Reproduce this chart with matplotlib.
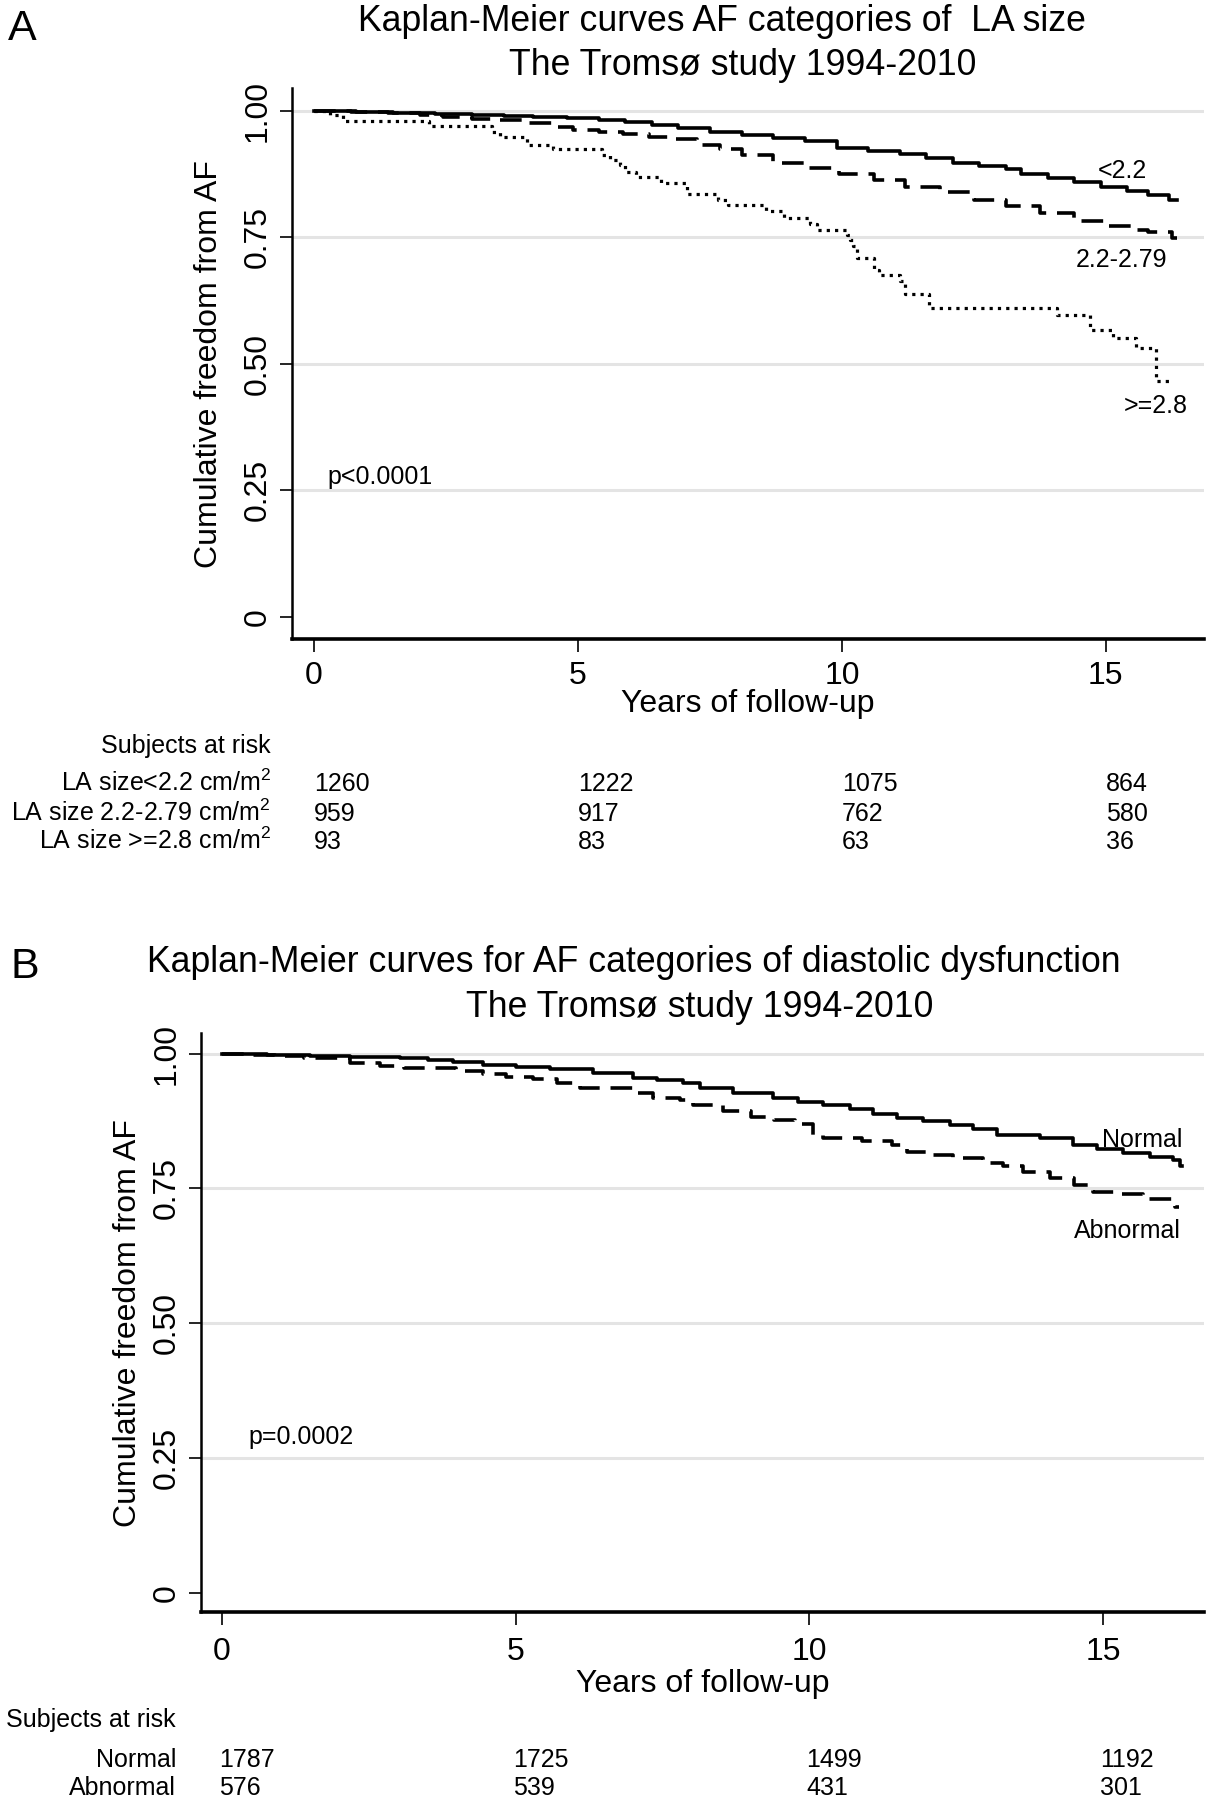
import matplotlib
matplotlib.use('Agg')
import matplotlib.pyplot as plt
import matplotlib.transforms as mtransforms

plt.rcParams['font.family'] = ['Liberation Sans', 'DejaVu Sans']
plt.rcParams['mathtext.fontset'] = 'custom'
plt.rcParams['mathtext.rm'] = 'Liberation Sans'
plt.rcParams['mathtext.it'] = 'Liberation Sans'

# shared axis values
xtickVals = [0, 5, 10, 15]
ytickVals = [0, 0.25, 0.5, 0.75, 1.0]
ytickLabels = ['0', '0.25', '0.50', '0.75', '1.00']

# panel A: LA size groups
aSmallT = [0, 0.8, 1.5, 2.3, 3.0, 3.6, 4.15, 4.8, 5.4, 5.9, 6.4, 6.9, 7.5, 8.1, 8.7, 9.3, 9.9,
           10.5, 11.1, 11.6, 12.1, 12.6, 13.1, 13.4, 13.9, 14.4, 14.9, 15.4, 15.8, 16.2, 16.35]
aSmallS = [1.0, 0.998, 0.996, 0.994, 0.992, 0.990, 0.988, 0.985, 0.982, 0.977, 0.972, 0.966, 0.959,
           0.953, 0.946, 0.940, 0.927, 0.921, 0.915, 0.906, 0.896, 0.890, 0.885, 0.876, 0.867, 0.859,
           0.849, 0.841, 0.834, 0.824, 0.824]
aMidT = [0, 0.7, 1.4, 2.0, 2.45, 3.0, 3.5, 4.0, 4.5, 4.9, 5.4, 5.85, 6.35, 6.8, 7.25, 7.7, 8.1, 8.7,
         9.3, 9.95, 10.6, 11.2, 11.85, 12.5, 13.1, 13.75, 14.4, 15.0, 15.5, 15.8, 16.25, 16.35]
aMidS = [1.0, 0.998, 0.995, 0.991, 0.987, 0.984, 0.981, 0.976, 0.967, 0.962, 0.958, 0.954, 0.948,
         0.944, 0.933, 0.925, 0.913, 0.896, 0.886, 0.875, 0.864, 0.850, 0.839, 0.823, 0.811, 0.798,
         0.783, 0.773, 0.764, 0.760, 0.748, 0.748]
aLargeT = [0, 0.3, 0.55, 2.17, 3.37, 3.52, 4.03, 4.53, 5.45, 5.6, 5.8, 5.9, 6.1, 6.58, 7.06, 7.66,
           7.85, 8.57, 8.9, 9.4, 9.52, 10.09, 10.15, 10.22, 10.28, 10.6, 10.7, 11.1, 11.2, 11.65,
           14.07, 14.7, 15.14, 15.58, 15.96, 16.2]
aLargeS = [1.0, 0.991, 0.979, 0.969, 0.958, 0.948, 0.933, 0.925, 0.913, 0.903, 0.892, 0.880, 0.870,
           0.857, 0.835, 0.824, 0.813, 0.802, 0.789, 0.777, 0.765, 0.755, 0.745, 0.733, 0.709, 0.686,
           0.676, 0.663, 0.639, 0.611, 0.597, 0.567, 0.551, 0.531, 0.466, 0.466]
aGroups = ['LA size<2.2 cm/m$^{2}$', 'LA size 2.2-2.79 cm/m$^{2}$', 'LA size >=2.8 cm/m$^{2}$']
aAtRisk = [[1260, 1222, 1075, 864], [959, 917, 762, 580], [93, 83, 63, 36]]

# panel B: diastolic function groups
bNormT = [0, 0.4, 0.76, 1.5, 2.18, 3.03, 3.5, 3.94, 4.45, 5.0, 5.59, 6.32, 7.0, 7.4, 7.85, 8.14, 8.7,
          9.39, 9.8, 10.24, 10.7, 11.09, 11.5, 11.94, 12.4, 12.79, 13.19, 13.92, 14.49, 14.9, 15.34,
          15.8, 16.2, 16.31, 16.35]
bNormS = [1.0, 0.999, 0.9975, 0.996, 0.994, 0.991, 0.988, 0.985, 0.979, 0.975, 0.971, 0.964, 0.954,
          0.950, 0.945, 0.937, 0.927, 0.917, 0.911, 0.905, 0.897, 0.888, 0.881, 0.875, 0.867, 0.860,
          0.849, 0.843, 0.831, 0.823, 0.815, 0.808, 0.802, 0.791, 0.791]
bAbnT = [0, 0.4, 0.9, 1.4, 2.18, 2.69, 3.1, 3.65, 3.99, 4.45, 4.84, 5.3, 5.7, 6.1, 7.0, 7.34, 7.8,
         8.02, 8.53, 9.0, 9.4, 9.75, 10.07, 10.24, 10.9, 11.4, 11.66, 12.0, 12.45, 12.96, 13.3, 13.64,
         14.1, 14.5, 14.83, 15.3, 15.68, 16.22, 16.3]
bAbnS = [1.0, 0.998, 0.995, 0.992, 0.983, 0.976, 0.974, 0.973, 0.967, 0.962, 0.956, 0.952, 0.945,
         0.936, 0.927, 0.917, 0.913, 0.905, 0.893, 0.883, 0.877, 0.870, 0.849, 0.843, 0.837, 0.831,
         0.818, 0.812, 0.806, 0.797, 0.791, 0.781, 0.769, 0.757, 0.744, 0.740, 0.730, 0.716, 0.716]
bGroups = ['Normal', 'Abnormal']
bAtRisk = [[1787, 1725, 1499, 1192], [576, 539, 431, 301]]

W, H = 1206, 1800
fig = plt.figure(figsize=(W / 100, H / 100), dpi=100)


def fy(py):
    return 1 - py / H


def fx(px):
    return px / W


def setupAxes(ax, xlim, ylim, xpad):
    ax.set_xlim(*xlim)
    ax.set_ylim(*ylim)
    ax.set_xticks(xtickVals)
    ax.set_yticks(ytickVals)
    ax.set_yticklabels(ytickLabels, rotation=90, va='center')
    ax.tick_params(axis='both', direction='out', length=9, width=1.2, labelsize=23, color='black')
    ax.tick_params(axis='x', pad=xpad)
    ax.tick_params(axis='y', pad=5)
    ax.spines['top'].set_visible(False)
    ax.spines['right'].set_visible(False)
    ax.spines['left'].set_linewidth(1.8)
    ax.spines['bottom'].set_linewidth(2.6)
    ax.set_axisbelow(True)
    ax.grid(axis='y', color='#e4e4e4', linewidth=2.2)
    ax.get_ygridlines()[0].set_visible(False)


# ---------- panel A ----------
axA = fig.add_axes([fx(292), fy(639), fx(1204) - fx(292), fy(88) - fy(639)])
setupAxes(axA, (-0.417, 16.86), (-0.0435, 1.045), 7)
axA.step(aSmallT, aSmallS, where='post', color='black', linewidth=2.6)
axA.step(aMidT, aMidS, where='post', color='black', linewidth=2.6, dashes=(6, 3))
axA.step(aLargeT, aLargeS, where='post', color='black', linewidth=2.3, dashes=(1, 1.6))

yA = mtransforms.blended_transform_factory(axA.transAxes, axA.transData)
axA.text((209 - 292) / 912, 0.5, 'Cumulative freedom from AF', transform=yA, rotation=90,
         ha='center', va='center', fontsize=23)
xA = mtransforms.blended_transform_factory(axA.transAxes, fig.transFigure)
axA.text(0.5, fy(712), 'Years of follow-up', transform=xA, ha='center', va='baseline', fontsize=23)

fig.text(fx(722), fy(31), 'Kaplan-Meier curves AF categories of  LA size', ha='center',
         va='baseline', fontsize=25.7)
fig.text(fx(743), fy(75), 'The Tromsø study 1994-2010', ha='center', va='baseline', fontsize=25.7)
fig.text(fx(8), fy(40), 'A', ha='left', va='baseline', fontsize=31)

lblA = mtransforms.blended_transform_factory(axA.transData, fig.transFigure)
axA.text(15.78, fy(178), '<2.2', transform=lblA, ha='right', va='baseline', fontsize=18)
axA.text(16.16, fy(267), '2.2-2.79', transform=lblA, ha='right', va='baseline', fontsize=18)
axA.text(16.55, fy(413), '>=2.8', transform=lblA, ha='right', va='baseline', fontsize=18)
axA.text(0.25, fy(484), 'p<0.0001', transform=lblA, ha='left', va='baseline', fontsize=18)

fig.text(fx(271), fy(753), 'Subjects at risk', ha='right', va='baseline', fontsize=18)
rowBaseA = [791, 821, 849]
for i in range(len(aGroups)):
    fig.text(fx(271), fy(rowBaseA[i]), aGroups[i], ha='right', va='baseline', fontsize=18)
    for j in range(len(xtickVals)):
        axA.text(xtickVals[j], fy(rowBaseA[i]), str(aAtRisk[i][j]), transform=lblA,
                 ha='left', va='baseline', fontsize=18)

# ---------- panel B ----------
axB = fig.add_axes([fx(201), fy(1612), fx(1204) - fx(201), fy(1033) - fy(1612)])
setupAxes(axB, (-0.357, 16.72), (-0.0347, 1.038), 9)
axB.step(bNormT, bNormS, where='post', color='black', linewidth=2.6)
axB.step(bAbnT, bAbnS, where='post', color='black', linewidth=2.6, dashes=(6, 3))

yB = mtransforms.blended_transform_factory(axB.transAxes, axB.transData)
axB.text((128 - 201) / 1003, 0.5, 'Cumulative freedom from AF', transform=yB, rotation=90,
         ha='center', va='center', fontsize=23)
xB = mtransforms.blended_transform_factory(axB.transAxes, fig.transFigure)
axB.text(0.5, fy(1692), 'Years of follow-up', transform=xB, ha='center', va='baseline', fontsize=23)

fig.text(fx(634), fy(972), 'Kaplan-Meier curves for AF categories of diastolic dysfunction',
         ha='center', va='baseline', fontsize=25.7)
fig.text(fx(700), fy(1017), 'The Tromsø study 1994-2010', ha='center', va='baseline', fontsize=25.7)
fig.text(fx(11), fy(978), 'B', ha='left', va='baseline', fontsize=31)

lblB = mtransforms.blended_transform_factory(axB.transData, fig.transFigure)
axB.text(16.35, fy(1147), 'Normal', transform=lblB, ha='right', va='baseline', fontsize=18)
axB.text(16.32, fy(1238), 'Abnormal', transform=lblB, ha='right', va='baseline', fontsize=18)
axB.text(0.45, fy(1444), 'p=0.0002', transform=lblB, ha='left', va='baseline', fontsize=18)

fig.text(fx(176), fy(1727), 'Subjects at risk', ha='right', va='baseline', fontsize=18)
rowBaseB = [1767, 1795]
for i in range(len(bGroups)):
    fig.text(fx(176), fy(rowBaseB[i]), bGroups[i], ha='right', va='baseline', fontsize=18)
    for j in range(len(xtickVals)):
        axB.text(xtickVals[j] - 0.05, fy(rowBaseB[i]), str(bAtRisk[i][j]), transform=lblB,
                 ha='left', va='baseline', fontsize=18)

fig.savefig('out.png', dpi=100, facecolor='white')
